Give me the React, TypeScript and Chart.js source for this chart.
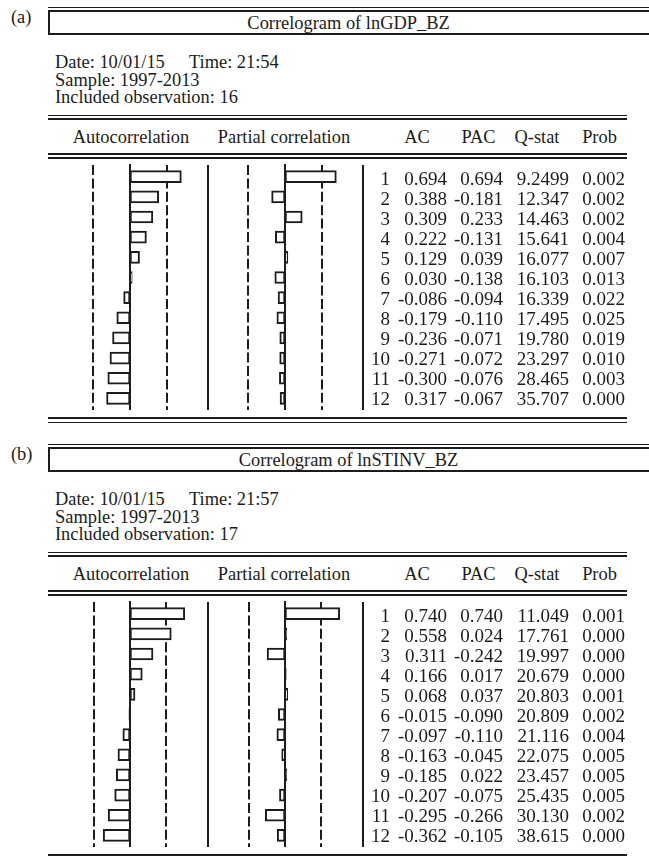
import React, { useEffect, useRef } from "react";
import { Chart, registerables } from "chart.js";

Chart.register(...registerables);

// ---------- data ----------
const LAGS = ["1", "2", "3", "4", "5", "6", "7", "8", "9", "10", "11", "12"];
const HEADERS = ["Autocorrelation", "Partial correlation", "AC", "PAC", "Q-stat", "Prob"];

// Panel (a)
const LABEL_A = "(a)";
const TITLE_A = "Correlogram of lnGDP_BZ";
const DATE_A = "Date: 10/01/15";
const TIME_A = "Time: 21:54";
const SAMPLE_A = "Sample: 1997-2013";
const OBS_A = "Included observation: 16";
const BAND_A = 0.5; // ±2/sqrt(16)
const AC_BARS_A = [0.694, 0.388, 0.309, 0.222, 0.129, 0.03, -0.086, -0.179, -0.236, -0.271, -0.3, -0.317];
const PAC_BARS_A = [0.694, -0.181, 0.233, -0.131, 0.039, -0.138, -0.094, -0.11, -0.071, -0.072, -0.076, -0.067];
const AC_TEXT_A = ["0.694", "0.388", "0.309", "0.222", "0.129", "0.030", "-0.086", "-0.179", "-0.236", "-0.271", "-0.300", "0.317"];
const PAC_TEXT_A = ["0.694", "-0.181", "0.233", "-0.131", "0.039", "-0.138", "-0.094", "-0.110", "-0.071", "-0.072", "-0.076", "-0.067"];
const Q_TEXT_A = ["9.2499", "12.347", "14.463", "15.641", "16.077", "16.103", "16.339", "17.495", "19.780", "23.297", "28.465", "35.707"];
const PROB_TEXT_A = ["0.002", "0.002", "0.002", "0.004", "0.007", "0.013", "0.022", "0.025", "0.019", "0.010", "0.003", "0.000"];

// Panel (b)
const LABEL_B = "(b)";
const TITLE_B = "Correlogram of lnSTINV_BZ";
const DATE_B = "Date: 10/01/15";
const TIME_B = "Time: 21:57";
const SAMPLE_B = "Sample: 1997-2013";
const OBS_B = "Included observation: 17";
const BAND_B = 0.485; // ±2/sqrt(17)
const AC_BARS_B = [0.74, 0.558, 0.311, 0.166, 0.068, -0.015, -0.097, -0.163, -0.185, -0.207, -0.295, -0.362];
const PAC_BARS_B = [0.74, 0.024, -0.242, 0.017, 0.037, -0.09, -0.11, -0.045, 0.022, -0.075, -0.266, -0.105];
const AC_TEXT_B = ["0.740", "0.558", "0.311", "0.166", "0.068", "-0.015", "-0.097", "-0.163", "-0.185", "-0.207", "-0.295", "-0.362"];
const PAC_TEXT_B = ["0.740", "0.024", "-0.242", "0.017", "0.037", "-0.090", "-0.110", "-0.045", "0.022", "-0.075", "-0.266", "-0.105"];
const Q_TEXT_B = ["11.049", "17.761", "19.997", "20.679", "20.803", "20.809", "21.116", "22.075", "23.457", "25.435", "30.130", "38.615"];
const PROB_TEXT_B = ["0.001", "0.000", "0.000", "0.000", "0.001", "0.002", "0.004", "0.005", "0.005", "0.005", "0.002", "0.000"];

// ---------- styling ----------
const INK = "#1c1c1c";
const FONT = '"Liberation Serif", "Times New Roman", Times, serif';
const FS = 18.4;
const FS_TABLE = 19;

const refLinesPlugin = {
  id: "refLines",
  beforeDatasetsDraw(chart: any, _a: any, opts: any) {
    const { ctx } = chart;
    const xs = chart.scales.x;
    ctx.save();
    ctx.strokeStyle = INK;
    ctx.lineWidth = 2;
    ctx.setLineDash([10, 3.4]);
    for (const v of [-opts.band, opts.band]) {
      const px = Math.round(xs.getPixelForValue(v));
      ctx.beginPath();
      ctx.moveTo(px, 1);
      ctx.lineTo(px, chart.height);
      ctx.stroke();
    }
    ctx.restore();
  },
  afterDatasetsDraw(chart: any) {
    const { ctx } = chart;
    const xs = chart.scales.x;
    const px = Math.round(xs.getPixelForValue(0));
    ctx.save();
    ctx.strokeStyle = INK;
    ctx.lineWidth = 2;
    ctx.beginPath();
    ctx.moveTo(px, 0);
    ctx.lineTo(px, chart.height);
    ctx.stroke();
    ctx.restore();
  },
};

function BarChart(props: { values: number[]; band: number; left: number; top: number; width: number; height: number }) {
  const ref = useRef<HTMLCanvasElement>(null);
  const { values, band, left, top, width, height } = props;
  useEffect(() => {
    const chart = new Chart(ref.current as HTMLCanvasElement, {
      type: "bar",
      data: {
        labels: LAGS,
        datasets: [
          {
            data: values,
            backgroundColor: "#ffffff",
            borderColor: INK,
            borderWidth: 2,
            borderSkipped: false,
            barThickness: 12,
          } as any,
        ],
      },
      options: {
        indexAxis: "y",
        animation: false,
        responsive: false,
        maintainAspectRatio: false,
        events: [],
        layout: { padding: { top: 2.6, bottom: 1.5, left: 0, right: 0 } },
        plugins: {
          legend: { display: false },
          tooltip: { enabled: false },
          refLines: { band },
        } as any,
        scales: {
          x: { type: "linear", min: -1, max: 1, display: false },
          y: { type: "category", display: false },
        },
      },
      plugins: [refLinesPlugin],
    });
    return () => chart.destroy();
  }, [values, band]);
  return (
    <canvas
      ref={ref}
      width={width}
      height={height}
      style={{ position: "absolute", left, top, width, height }}
    />
  );
}

function HLine(p: { x1: number; x2: number; y: number; h?: number }) {
  return (
    <div
      style={{
        position: "absolute",
        left: p.x1,
        top: p.y,
        width: p.x2 - p.x1,
        height: p.h ?? 1.5,
        background: INK,
      }}
    />
  );
}

function VLine(p: { x: number; y1: number; y2: number; w?: number }) {
  return (
    <div
      style={{
        position: "absolute",
        left: p.x,
        top: p.y1,
        width: p.w ?? 2,
        height: p.y2 - p.y1,
        background: INK,
      }}
    />
  );
}

function Txt(p: { x: number; y: number; align?: "left" | "right" | "center"; fs?: number; children: React.ReactNode }) {
  const lh = 20;
  const w = 300;
  let left = p.x;
  if (p.align === "right") left = p.x - w;
  if (p.align === "center") left = p.x - w / 2;
  return (
    <div
      style={{
        position: "absolute",
        left,
        top: p.y - lh / 2,
        width: w,
        height: lh,
        lineHeight: lh + "px",
        fontSize: p.fs ?? FS,
        fontFamily: FONT,
        color: INK,
        textAlign: p.align ?? "left",
        whiteSpace: "pre",
      }}
    >
      {p.children}
    </div>
  );
}

function Panel(p: {
  top: number;
  label: string;
  title: string;
  date: string;
  time: string;
  sample: string;
  obs: string;
  band: number;
  acBars: number[];
  pacBars: number[];
  acText: string[];
  pacText: string[];
  qText: string[];
  probText: string[];
}) {
  const rowY = (i: number) => 179 + 20.03 * i;
  const colRight = [390, 447, 503, 569, 625];
  const headerX = [131, 284, 417, 478.5, 537, 599.5];
  return (
    <div style={{ position: "absolute", left: 0, top: p.top, width: 649, height: 437 }}>
      <Txt x={11} y={16.5}>{p.label}</Txt>
      {/* title box */}
      <HLine x1={48} x2={649} y={6.5} />
      <HLine x1={48} x2={649} y={10} />
      <VLine x={47.5} y1={10} y2={34.5} w={2} />
      <HLine x1={48} x2={649} y={32.5} h={2} />
      <Txt x={348.5} y={22.5} align="center">{p.title}</Txt>
      {/* meta */}
      <Txt x={55} y={62}>{p.date}</Txt>
      <Txt x={189} y={62}>{p.time}</Txt>
      <Txt x={55} y={79.5}>{p.sample}</Txt>
      <Txt x={55} y={97}>{p.obs}</Txt>
      <HLine x1={48} x2={627} y={114.5} />
      <HLine x1={48} x2={627} y={118} />
      {/* header */}
      {HEADERS.map((h, i) => (
        <Txt key={h} x={headerX[i]} y={137} align="center">{h}</Txt>
      ))}
      <HLine x1={48} x2={627} y={153} />
      <HLine x1={48} x2={627} y={157} h={2} />
      {/* bars */}
      <BarChart values={p.acBars} band={p.band} left={56} top={164} width={148} height={246} />
      <VLine x={207} y1={165} y2={410} />
      <BarChart values={p.pacBars} band={p.band} left={211} top={164} width={148} height={246} />
      <VLine x={361.5} y1={165} y2={410} />
      {/* table */}
      {LAGS.map((lag, i) => (
        <React.Fragment key={lag}>
          <Txt x={colRight[0]} y={rowY(i)} align="right" fs={FS_TABLE}>{lag}</Txt>
          <Txt x={colRight[1]} y={rowY(i)} align="right" fs={FS_TABLE}>{p.acText[i]}</Txt>
          <Txt x={colRight[2]} y={rowY(i)} align="right" fs={FS_TABLE}>{p.pacText[i]}</Txt>
          <Txt x={colRight[3]} y={rowY(i)} align="right" fs={FS_TABLE}>{p.qText[i]}</Txt>
          <Txt x={colRight[4]} y={rowY(i)} align="right" fs={FS_TABLE}>{p.probText[i]}</Txt>
        </React.Fragment>
      ))}
      <HLine x1={48} x2={627} y={416.5} h={2} />
      <HLine x1={48} x2={627} y={421.5} />
    </div>
  );
}

export default function App() {
  return (
    <div
      style={{
        position: "absolute",
        left: 0,
        top: 0,
        width: 649,
        height: 857,
        background: "#ffffff",
        overflow: "hidden",
      }}
    >
      <Panel
        top={0}
        label={LABEL_A}
        title={TITLE_A}
        date={DATE_A}
        time={TIME_A}
        sample={SAMPLE_A}
        obs={OBS_A}
        band={BAND_A}
        acBars={AC_BARS_A}
        pacBars={PAC_BARS_A}
        acText={AC_TEXT_A}
        pacText={PAC_TEXT_A}
        qText={Q_TEXT_A}
        probText={PROB_TEXT_A}
      />
      <Panel
        top={437}
        label={LABEL_B}
        title={TITLE_B}
        date={DATE_B}
        time={TIME_B}
        sample={SAMPLE_B}
        obs={OBS_B}
        band={BAND_B}
        acBars={AC_BARS_B}
        pacBars={PAC_BARS_B}
        acText={AC_TEXT_B}
        pacText={PAC_TEXT_B}
        qText={Q_TEXT_B}
        probText={PROB_TEXT_B}
      />
    </div>
  );
}
